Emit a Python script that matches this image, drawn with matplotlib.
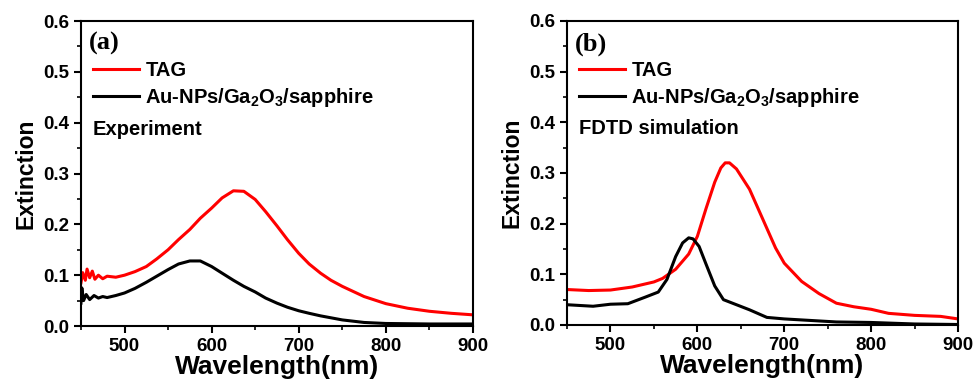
import numpy as np
import matplotlib
matplotlib.use("Agg")
import matplotlib.pyplot as plt
from matplotlib.ticker import MultipleLocator

plt.rcParams['font.family'] = ['Liberation Sans', 'DejaVu Sans']
plt.rcParams['font.weight'] = 'bold'
plt.rcParams['mathtext.fontset'] = 'custom'
plt.rcParams['mathtext.rm'] = 'Liberation Sans:bold'
plt.rcParams['mathtext.bf'] = 'Liberation Sans:bold'
plt.rcParams['mathtext.default'] = 'bf'

# (a) experiment
wl_exp_tag = [450, 452, 455, 457, 460, 463, 466, 470, 475, 480, 490, 500, 512, 525, 537, 550, 562,
              575, 587, 600, 612, 625, 637, 650, 662, 675, 687, 700, 712, 725, 737, 750,
              775, 800, 825, 850, 875, 900]
ext_exp_tag = [0.085, 0.105, 0.09, 0.112, 0.095, 0.108, 0.092, 0.100, 0.093, 0.098, 0.096, 0.100,
               0.107, 0.117, 0.132, 0.150, 0.170, 0.190, 0.212, 0.232, 0.252, 0.266, 0.265, 0.249,
               0.225, 0.197, 0.170, 0.143, 0.122, 0.104, 0.090, 0.078, 0.058, 0.044, 0.035,
               0.029, 0.025, 0.022]
wl_exp_au = [450, 451, 453, 456, 460, 465, 470, 475, 480, 490, 500, 512, 525, 537, 550, 562, 575,
             587, 600, 612, 625, 637, 650, 662, 675, 687, 700, 712, 725, 750, 775, 800, 850, 900]
ext_exp_au = [0.045, 0.075, 0.05, 0.062, 0.052, 0.060, 0.055, 0.058, 0.056, 0.060, 0.065, 0.074,
              0.086, 0.098, 0.111, 0.122, 0.128, 0.128, 0.117, 0.104, 0.090, 0.078, 0.067, 0.055,
              0.045, 0.037, 0.030, 0.025, 0.020, 0.012, 0.007, 0.005, 0.004, 0.004]

# (b) FDTD simulation
wl_sim_tag = [450, 475, 500, 525, 550, 560, 575, 590, 600, 610, 620, 627, 632, 637, 645, 660, 675,
              690, 700, 720, 740, 760, 780, 800, 820, 850, 880, 900]
ext_sim_tag = [0.070, 0.068, 0.069, 0.075, 0.085, 0.092, 0.110, 0.140, 0.175, 0.230, 0.282, 0.310,
               0.320, 0.320, 0.308, 0.268, 0.210, 0.152, 0.122, 0.086, 0.062, 0.043, 0.036, 0.031,
               0.023, 0.019, 0.017, 0.012]
wl_sim_au = [450, 480, 500, 520, 540, 555, 565, 575, 583, 590, 595, 602, 610, 620, 630, 645, 660,
             680, 700, 730, 760, 800, 850, 900]
ext_sim_au = [0.040, 0.037, 0.041, 0.042, 0.055, 0.065, 0.090, 0.135, 0.162, 0.172, 0.170, 0.155,
              0.120, 0.077, 0.050, 0.040, 0.030, 0.015, 0.012, 0.009, 0.006, 0.005, 0.002, 0.001]

panels = [
    ("(a)", "Experiment", wl_exp_tag, ext_exp_tag, wl_exp_au, ext_exp_au),
    ("(b)", "FDTD simulation", wl_sim_tag, ext_sim_tag, wl_sim_au, ext_sim_au),
]

fig = plt.figure(figsize=(9.79, 3.91), dpi=100)
boxes = [[0.0827, 0.1662, 0.4004, 0.780], [0.5792, 0.1688, 0.3994, 0.7775]]

for box, (tag, note, x1, y1, x2, y2) in zip(boxes, panels):
    ax = fig.add_axes(box)
    ax.plot(x1, y1, color='#ff0000', lw=2.2, label='TAG')
    ax.plot(x2, y2, color='black', lw=2.2, label='Au-NPs/Ga$_2$O$_3$/sapphire')
    ax.set_xlim(450, 900)
    ax.set_ylim(0, 0.6)
    ax.xaxis.set_major_locator(MultipleLocator(100))
    ax.xaxis.set_minor_locator(MultipleLocator(50))
    ax.yaxis.set_major_locator(MultipleLocator(0.1))
    ax.yaxis.set_minor_locator(MultipleLocator(0.05))
    ax.yaxis.set_major_formatter(plt.FormatStrFormatter('%.1f'))
    ax.tick_params(which='major', direction='out', length=5, width=1.5, labelsize=13.5)
    ax.tick_params(which='minor', direction='out', length=3, width=1.2)
    for s in ax.spines.values():
        s.set_linewidth(1.5)
    ax.set_xlabel('Wavelength(nm)', fontsize=19, fontweight='bold', labelpad=0)
    ax.set_ylabel('Extinction', fontsize=16.5, fontweight='bold', labelpad=4)
    ax.text(0.02, 0.925, tag, transform=ax.transAxes, fontsize=19, fontweight='bold',
            family='Liberation Serif', va='center')
    ax.legend(loc='upper left', bbox_to_anchor=(0.0, 0.908), frameon=False, fontsize=14.5,
              handlelength=2.3, handletextpad=0.3, labelspacing=0.28, borderaxespad=0.2)
    ax.text(0.03, 0.645, note, transform=ax.transAxes, fontsize=14.5, fontweight='bold', va='center')

fig.savefig('out.png', dpi=100)
